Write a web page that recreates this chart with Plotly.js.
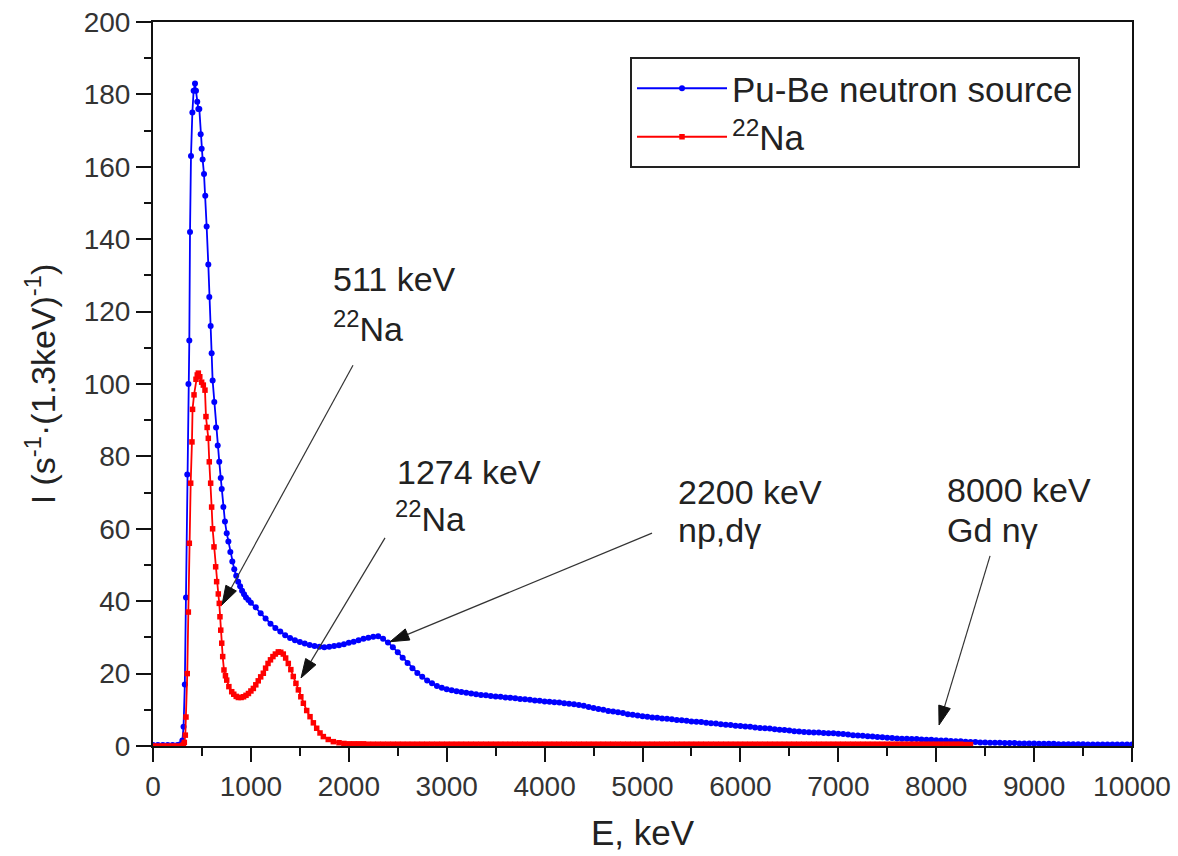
<!DOCTYPE html>
<html>
<head>
<meta charset="utf-8">
<script src="https://cdn.plot.ly/plotly-3.0.1.min.js"></script>
<style>html,body{margin:0;padding:0;background:#fff;}#chart{width:1178px;height:856px;}</style>
</head>
<body>
<div id="chart"></div>
<script>
// ---- Pu-Be neutron source spectrum (E in keV, I in s^-1·(1.3keV)^-1) ----
const blueE = [0,50,100,150,200,250,280,300,312,325,337,350,362,371,378,388,402,415,429,439,452,463,473,487,497,507,521,534,548,565,575,589,599,609,626,644,661,677,692,702,719,735,753,770,790,810,830,850,870,890,910,930,950,975,
1000,1050,1100,1150,1200,1250,1300,1350,1400,1450,1500,1550,1600,1650,1700,1750,1800,1850,1900,1950,
2000,2050,2100,2150,2200,2250,2300,2350,2400,2450,2500,2550,2600,2650,2700,2750,2800,2850,2900,2950,
3000,3050,3100,3150,3200,3250,3300,3350,3400,3450,3500,3550,3600,3650,3700,3750,3800,3850,3900,3950,
4000,4050,4100,4150,4200,4250,4300,4350,4400,4450,4500,4550,4600,4650,4700,4750,4800,4850,4900,4950,
5000,5050,5100,5150,5200,5250,5300,5350,5400,5450,5500,5550,5600,5650,5700,5750,5800,5850,5900,5950,
6000,6050,6100,6150,6200,6250,6300,6350,6400,6450,6500,6550,6600,6650,6700,6750,6800,6850,6900,6950,
7000,7050,7100,7150,7200,7250,7300,7350,7400,7450,7500,7550,7600,7650,7700,7750,7800,7850,7900,7950,
8000,8050,8100,8150,8200,8250,8300,8350,8400,8450,8500,8550,8600,8650,8700,8750,8800,8850,8900,8950,
9000,9050,9100,9150,9200,9250,9300,9350,9400,9450,9500,9550,9600,9650,9700,9750,9800,9850,9900,9950,10000];
const blueI = [0.3,0.3,0.3,0.3,0.3,0.3,0.5,1.5,5.3,17,41,75,100,112,142,163,175,181,183,181,178,176,176,169,165,162,158,152,143.5,133,124,116,108.5,101,95,88,83,78.5,74,71,66,62,58.8,56.5,53.6,51,48.8,47,45.4,44.1,42.9,41.9,41.0,40.3,
39.6,38.3,36.7,35.2,33.8,32.6,31.6,30.6,29.8,29.2,28.7,28.3,27.9,27.6,27.4,27.3,27.4,27.6,27.8,28.1,
28.5,28.8,29.2,29.6,29.9,30.2,30.3,29.6,28.6,27.3,25.9,24.4,22.9,21.5,20.2,19.1,18.1,17.3,16.6,16.1,
15.7,15.4,15.1,14.9,14.7,14.5,14.3,14.1,14.0,13.8,13.7,13.6,13.4,13.3,13.2,13.0,12.9,12.8,12.6,12.5,
12.3,12.2,12.1,12.0,11.8,11.7,11.5,11.3,11.1,10.8,10.5,10.2,10.0,9.7,9.5,9.3,9.1,8.8,8.6,8.4,
8.2,8.1,7.9,7.8,7.6,7.5,7.4,7.2,7.1,7.0,6.8,6.7,6.6,6.4,6.3,6.2,6.0,5.9,5.8,5.6,
5.5,5.4,5.3,5.1,5.0,4.9,4.8,4.6,4.5,4.4,4.3,4.1,4.0,3.9,3.8,3.7,3.7,3.6,3.5,3.5,
3.4,3.3,3.2,3.0,2.9,2.8,2.7,2.6,2.5,2.4,2.3,2.2,2.1,2.0,2.0,1.9,1.9,1.8,1.7,1.7,
1.6,1.5,1.5,1.4,1.3,1.3,1.2,1.1,1.1,1.0,1.0,0.9,0.9,0.9,0.8,0.8,0.8,0.7,0.7,0.7,
0.7,0.6,0.6,0.6,0.6,0.5,0.5,0.5,0.5,0.5,0.5,0.4,0.4,0.4,0.4,0.4,0.4,0.4,0.4,0.4,0.4];

// ---- 22Na spectrum ----
const redE = [0,50,100,150,200,250,300,310,320,330,337,350,361,371,385,398,404,419,439,452,463,478,497,514,531,541,553,565,575,589,599,609,623,640,650,667,677,684,692,702,712,725,740,753,775,804,825,850,872,900,925,950,975,
1000,1025,1050,1075,1100,1127,1150,1175,1200,1225,1250,1280,1305,1331,1355,1382,1408,1433,1460,1485,1510,1536,1570,1604,1638,1672,1706,1740,1790,1842,1900,1950,
2000,2050,2100,2150,2200,2250,2300,2350,2400,2450,2500,2550,2600,2650,2700,2750,2800,2850,2900,2950,
3000,3050,3100,3150,3200,3250,3300,3350,3400,3450,3500,3550,3600,3650,3700,3750,3800,3850,3900,3950,
4000,4050,4100,4150,4200,4250,4300,4350,4400,4450,4500,4550,4600,4650,4700,4750,4800,4850,4900,4950,
5000,5050,5100,5150,5200,5250,5300,5350,5400,5450,5500,5550,5600,5650,5700,5750,5800,5850,5900,5950,
6000,6050,6100,6150,6200,6250,6300,6350,6400,6450,6500,6550,6600,6650,6700,6750,6800,6850,6900,6950,
7000,7050,7100,7150,7200,7250,7300,7350,7400,7450,7500,7550,7600,7650,7700,7750,7800,7850,7900,7950,
8000,8050,8100,8150,8200,8250,8300,8350];
const redI = [0,0,0,0,0,0,0.1,0.4,1,3,8,20,37,56,72.6,84,93,97,101.3,102.5,103,102,100.5,99.7,98.3,91,88,85,78.5,72.6,66,60,55,49.5,45.4,42,39.4,35.7,32,28.4,24.7,21,19.4,18.2,16.4,15,14.3,13.7,13.4,13.4,13.6,14.0,14.5,
15.2,15.9,16.9,18,19.1,20.1,21.5,22.8,23.8,24.7,25.4,26.0,25.9,25.4,24.3,22.8,21.1,19.2,17.3,15.5,13.6,11.8,9.8,8.1,6.4,4.9,3.6,2.6,1.8,1.2,0.9,0.7,
0.6,0.6,0.6,0.6,0.5,0.5,0.5,0.5,0.5,0.5,0.5,0.5,0.5,0.5,0.5,0.5,0.5,0.5,0.5,0.5,
0.5,0.5,0.5,0.5,0.5,0.5,0.5,0.5,0.5,0.5,0.5,0.5,0.5,0.5,0.5,0.5,0.5,0.5,0.5,0.5,
0.5,0.5,0.5,0.5,0.5,0.5,0.5,0.5,0.5,0.5,0.5,0.5,0.5,0.5,0.5,0.5,0.5,0.5,0.5,0.5,
0.5,0.5,0.5,0.5,0.5,0.5,0.5,0.5,0.5,0.5,0.5,0.5,0.5,0.5,0.5,0.5,0.5,0.5,0.5,0.5,
0.5,0.5,0.5,0.5,0.5,0.5,0.5,0.5,0.5,0.5,0.5,0.5,0.5,0.5,0.5,0.5,0.5,0.5,0.5,0.5,
0.5,0.5,0.5,0.5,0.5,0.5,0.5,0.5,0.5,0.5,0.5,0.5,0.5,0.5,0.5,0.5,0.5,0.5,0.5,0.5,
0.5,0.5,0.5,0.5,0.5,0.5,0.4,0.4];

const seriesNames = ['Pu-Be neutron source', '<sup>22</sup>Na'];
const xTitle = 'E, keV';
const yTitle = 'I (s<sup>-1</sup>·(1.3keV)<sup>-1</sup>)';

const FONT = 'Liberation Sans, Arial, Helvetica, sans-serif';
const X_RANGE = [0, 10000], Y_RANGE = [0, 200];
const M = {l: 153, r: 46, t: 22, b: 110}, W = 1178, H = 856;
const PW = W - M.l - M.r, PH = H - M.t - M.b;

const traces = [
  {x: blueE, y: blueI, name: seriesNames[0], type: 'scatter', mode: 'lines+markers',
   line: {color: '#0000ff', width: 1.8}, marker: {color: '#0000ff', size: 6, symbol: 'circle'}},
  {x: redE, y: redI, name: seriesNames[1], type: 'scatter', mode: 'lines+markers',
   line: {color: '#ff0000', width: 1.8}, marker: {color: '#ff0000', size: 5.5, symbol: 'square'}}
];

const textCol = '#222';
function label(text, px, py) {
  return {text: text, xref: 'paper', yref: 'paper', x: (px - M.l) / PW, y: (H - M.b - py) / PH,
          xanchor: 'left', yanchor: 'middle', showarrow: false,
          font: {family: FONT, size: 34, color: textCol}};
}
// arrow (thin line + filled triangular head) built in pixel space and expressed in data units
const sx = PW / (X_RANGE[1] - X_RANGE[0]), sy = PH / (Y_RANGE[1] - Y_RANGE[0]);
function arrowShapes(tipE, tipI, tailE, tailI) {
  const dx = (tailE - tipE) * sx, dy = (tailI - tipI) * sy;
  const L = Math.hypot(dx, dy), ux = dx / L, uy = dy / L;
  const hl = 19, hw = 6;
  const bx = ux * hl, by = uy * hl;
  const px = -uy * hw, py = ux * hw;
  const toE = v => tipE + v / sx, toI = v => tipI + v / sy;
  return [
    {type: 'line', xref: 'x', yref: 'y', x0: toE(bx * 0.8), y0: toI(by * 0.8), x1: tailE, y1: tailI,
     line: {color: '#333', width: 1.2}},
    {type: 'path', xref: 'x', yref: 'y',
     path: 'M' + tipE + ',' + tipI + ' L' + toE(bx + px) + ',' + toI(by + py) +
           ' L' + toE(bx - px) + ',' + toI(by - py) + ' Z',
     fillcolor: '#111', line: {color: '#111', width: 1}}
  ];
}

const shapes = [].concat(
  arrowShapes(705, 39, 2043, 105.2),
  arrowShapes(1512, 18.8, 2370, 57.5),
  arrowShapes(2421, 28.8, 5097, 58.8),
  arrowShapes(8029, 5.8, 8550, 52.5)
);

const layout = {
  width: W, height: H,
  margin: M,
  paper_bgcolor: '#fff', plot_bgcolor: '#fff',
  font: {family: FONT, color: textCol},
  showlegend: true,
  legend: {x: (630 - M.l) / PW, y: (H - M.b - 57) / PH, xanchor: 'left', yanchor: 'top',
           bgcolor: '#fff', bordercolor: '#222', borderwidth: 2,
           font: {family: FONT, size: 35, color: textCol}, itemwidth: 90, tracegroupgap: 0},
  xaxis: {range: X_RANGE, dtick: 1000, tick0: 0, tickformat: 'd', showgrid: false, zeroline: false,
          showline: true, mirror: true, linecolor: '#111', linewidth: 2,
          ticks: 'outside', ticklen: 14, tickwidth: 2, tickcolor: '#111',
          minor: {dtick: 500, ticks: 'outside', ticklen: 8, tickwidth: 2, tickcolor: '#111'},
          tickfont: {family: FONT, size: 28, color: '#333'},
          title: {text: xTitle, font: {family: FONT, size: 35, color: textCol}, standoff: 20}},
  yaxis: {range: Y_RANGE, dtick: 20, tick0: 0, showgrid: false, zeroline: false,
          showline: true, mirror: true, linecolor: '#111', linewidth: 2,
          ticks: 'outside', ticklen: 15, tickwidth: 2, tickcolor: '#111',
          minor: {dtick: 10, ticks: 'outside', ticklen: 7, tickwidth: 2, tickcolor: '#111'},
          tickfont: {family: FONT, size: 28, color: '#333'},
          title: {text: yTitle, font: {family: FONT, size: 34, color: textCol}, standoff: 18}},
  shapes: shapes,
  annotations: [
    label('511 keV', 331, 279),
    label('<sup>22</sup>Na', 331, 326),
    label('1274 keV', 395, 472),
    label('<sup>22</sup>Na', 393, 516),
    label('2200 keV', 676, 492),
    label('np,dγ', 676, 530),
    label('8000 keV', 945, 490),
    label('Gd nγ', 945, 530)
  ]
};

Plotly.newPlot('chart', traces, layout, {displayModeBar: false, staticPlot: true});
</script>
</body>
</html>
